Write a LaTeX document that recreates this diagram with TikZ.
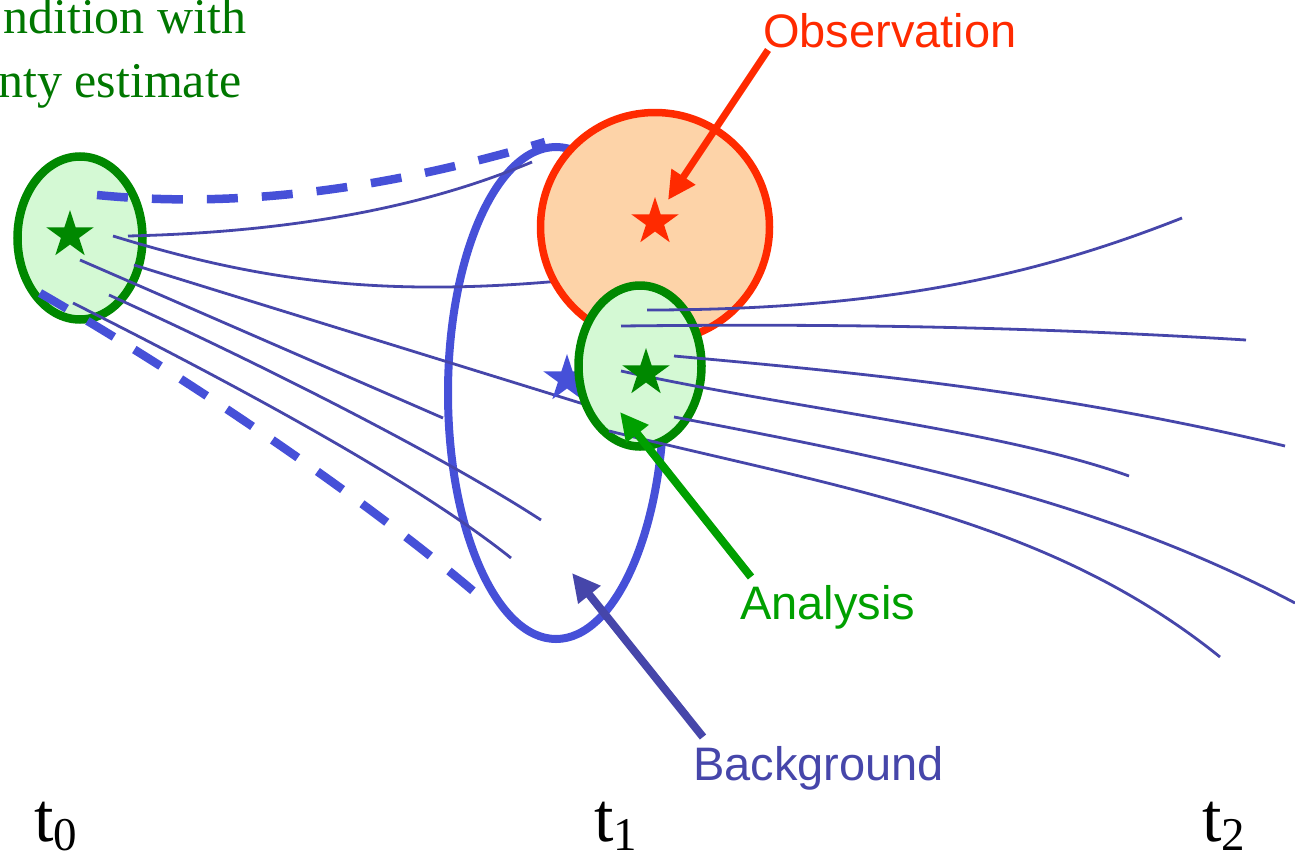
\documentclass[tikz,border=0pt]{standalone}
\usepackage{fontspec}
\setmainfont{Liberation Serif}
\newfontfamily\arialfont{Liberation Sans}
\usetikzlibrary{shapes.geometric,arrows.meta}
\definecolor{gstroke}{HTML}{008800}
\definecolor{gfill}{HTML}{D4F9D4}
\definecolor{rstroke}{HTML}{FF2A00}
\definecolor{rfill}{HTML}{FDD3A8}
\definecolor{bell}{HTML}{4650D8}
\definecolor{traj}{HTML}{4646AA}
\definecolor{anagreen}{HTML}{00A000}
\definecolor{bgblue}{HTML}{4646AA}
\definecolor{txtgreen}{HTML}{007700}
\begin{document}
\begin{tikzpicture}[x=1pt,y=-1pt,
  trajline/.style={draw=traj, line width=2.8pt},
  dashline/.style={draw=bell, line width=8.5pt, dash pattern=on 31pt off 24pt},
  greenell/.style={ellipse, draw=gstroke, fill=gfill, line width=8.5pt, inner sep=0pt},
  starnode/.style={star, star points=5, star point ratio=2.618, inner sep=0pt, minimum size=50pt},
  lbl/.style={font=\arialfont\fontsize{47}{47}\selectfont, inner sep=0pt, anchor=base west},
  tlbl/.style={font=\fontsize{70}{70}\selectfont, inner sep=0pt, anchor=base west},
  pointer/.style={line width=8pt, -{Triangle[length=28pt,width=27pt]}},
]
\useasboundingbox (0,0) rectangle (1295,862);

% initial condition ellipse
\node[greenell, minimum width=125pt, minimum height=163pt] (ic) at (80,238) {};
\node[starnode, fill=gstroke] (icstar) at (70,235) {};

% background ellipse
\node[ellipse, draw=bell, line width=8pt, inner sep=0pt, minimum width=216pt, minimum height=492pt] (bg) at (556,393) {};

% left trajectories
\draw[trajline] (128,236) .. controls (300,232) and (430,205) .. (532,162);
\draw[trajline] (113,236) .. controls (250,278) and (370,298) .. (560,281);
\draw[trajline] (134,265) -- (590,406);
\draw[trajline] (80,260) -- (443,418);
\draw[trajline] (109,295) .. controls (259,363) and (441,455) .. (541,520);
\draw[trajline] (73,303) .. controls (220,377) and (411,478) .. (511,558);

% dashed envelope
\draw[dashline] (97,195) .. controls (250,210) and (400,185) .. (545,142);
\draw[dashline] (40,293) .. controls (200,385) and (380,510) .. (486,602);

% background star
\node[starnode, fill=bell] (bgstar) at (567,379) {};

% observation
\node[circle, draw=rstroke, fill=rfill, line width=7.5pt, inner sep=0pt, minimum size=229pt] (obs) at (655,227) {};
\node[starnode, fill=rstroke] (obsstar) at (655,222) {};

% analysis
\node[greenell, minimum width=123pt, minimum height=161pt] (ana) at (640,366) {};

% right trajectories
\draw[trajline] (647,310) .. controls (900,310) and (1050,270) .. (1182,218);
\draw[trajline] (621,326) .. controls (800,324) and (1000,325) .. (1246,340);
\draw[trajline] (674,356) .. controls (850,372) and (1050,390) .. (1285,446);
\draw[trajline] (621,371) .. controls (800,410) and (1000,430) .. (1129,476);
\draw[trajline] (674,417) .. controls (900,460) and (1100,500) .. (1295,603);
\draw[trajline] (609,431) .. controls (850,490) and (1050,520) .. (1220,657);

\node[starnode, fill=gstroke] (anastar) at (646,373) {};

% labels
\node[lbl, text=rstroke] (obslbl) at (763,47) {Observation};
\node[lbl, text=anagreen] (analbl) at (740,619) {Analysis};
\node[lbl, text=bgblue] (bglbl) at (693,780) {Background};

\coordinate (obsfrom) at (768,50);
\coordinate (obstip) at (668,200);
\coordinate (anafrom) at (751,577);
\coordinate (anatip) at (620,412);
\coordinate (bgfrom) at (703,737);
\coordinate (bgtip) at (572,573);

\draw[pointer, rstroke, line width=7pt] (obsfrom) -- (obstip);
\draw[pointer, anagreen] (anafrom) -- (anatip);
\draw[pointer, bgblue] (bgfrom) -- (bgtip);

% time labels
\node[tlbl] (t0) at (34,841) {t\raisebox{-9pt}{\fontsize{47}{47}\selectfont 0}};
\node[tlbl] (t1) at (594,841) {t\raisebox{-9pt}{\fontsize{47}{47}\selectfont 1}};
\node[tlbl] (t2) at (1202,841) {t\raisebox{-9pt}{\fontsize{47}{47}\selectfont 2}};

% caption (cut off at the left edge)
\node[font=\fontsize{50}{50}\selectfont, text=txtgreen, inner sep=0pt, anchor=base west] (cap1) at (3,33) {ndition with};
\node[font=\fontsize{50}{50}\selectfont, text=txtgreen, inner sep=0pt, anchor=base west] (cap2) at (-2,97) {nty estimate};
\end{tikzpicture}
\end{document}
